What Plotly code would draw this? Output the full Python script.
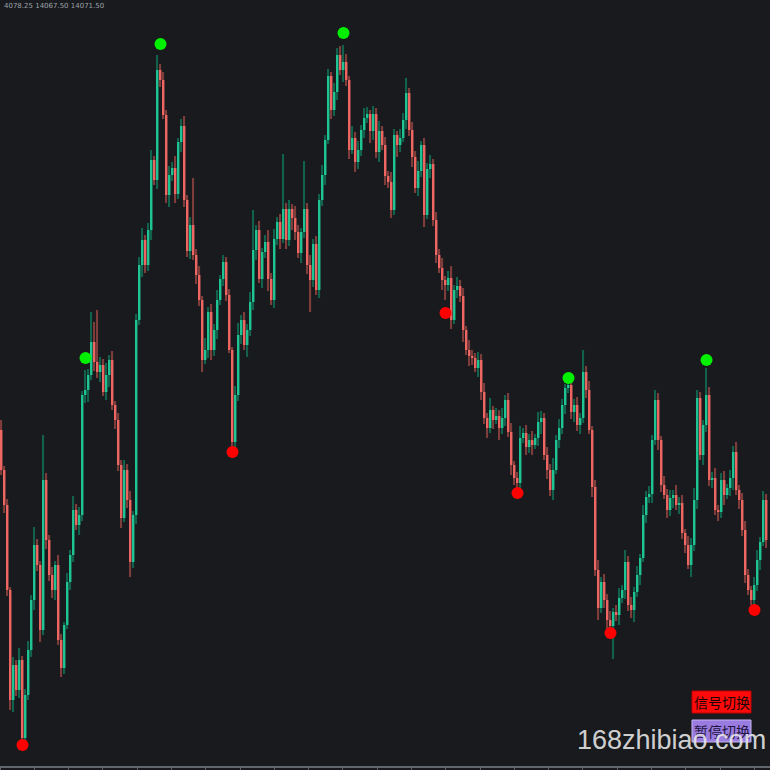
import plotly.graph_objects as go

# ---------------- data ----------------
first_open = 14370
closes = [
    14330, 14295, 14210, 14100, 14135, 14110, 14140, 14062, 14105, 14150, 14200, 14255, 14235, 14170, 14320, 14260,
    14225, 14210, 14235, 14160, 14132, 14175, 14218, 14245, 14290, 14275, 14285, 14405, 14410, 14425, 14458, 14438,
    14428, 14435, 14408, 14425, 14440, 14395, 14380, 14335, 14282, 14330, 14300, 14238, 14285, 14480, 14535, 14560,
    14535, 14570, 14640, 14620, 14730, 14720, 14685, 14605, 14625, 14632, 14606, 14658, 14674, 14600, 14549, 14575,
    14545, 14525, 14500, 14440, 14450, 14488, 14450, 14470, 14500, 14521, 14538, 14505, 14450, 14358, 14405, 14465,
    14480, 14455, 14470, 14498, 14550, 14570, 14521, 14548, 14558, 14521, 14500, 14561, 14578, 14561, 14591, 14560,
    14591, 14582, 14568, 14547, 14568, 14591, 14535, 14520, 14556, 14510, 14600, 14625, 14660, 14724, 14690, 14708,
    14745, 14730, 14738, 14720, 14650, 14662, 14638, 14650, 14670, 14682, 14686, 14669, 14686, 14648, 14669, 14655,
    14624, 14618, 14590, 14665, 14655, 14662, 14680, 14707, 14670, 14643, 14612, 14629, 14655, 14585, 14631, 14636,
    14580, 14545, 14532, 14520, 14515, 14522, 14480, 14510, 14514, 14504, 14470, 14450, 14444, 14442, 14432, 14440,
    14408, 14382, 14372, 14390, 14380, 14384, 14372, 14382, 14400, 14368, 14335, 14322, 14317, 14362, 14367, 14353,
    14360, 14355, 14362, 14378, 14382, 14345, 14330, 14310, 14330, 14360, 14372, 14395, 14412, 14415, 14388, 14395,
    14375, 14382, 14428, 14410, 14370, 14313, 14230, 14192, 14218, 14200, 14180, 14174, 14188, 14185, 14202, 14210,
    14238, 14195, 14190, 14208, 14225, 14242, 14285, 14303, 14306, 14360, 14400, 14360, 14315, 14305, 14290, 14302,
    14305, 14295, 14297, 14267, 14255, 14235, 14255, 14300, 14402, 14345, 14375, 14405, 14320, 14322, 14290, 14288,
    14320, 14305, 14312, 14322, 14348, 14310, 14300, 14270, 14225, 14210, 14200, 14215, 14240, 14258, 14300, 14260,
]
up_wick = [
    10, 4, 6, 3, 8, 5, 12, 4, 6, 9, 5, 18, 6, 4, 45, 7,
    5, 8, 4, 10, 6, 3, 9, 5, 14, 6, 8, 4, 20, 6, 30, 20,
    52, 8, 6, 12, 5, 9, 4, 7, 5, 10, 6, 9, 4, 6, 8, 12,
    5, 7, 10, 4, 15, 6, 8, 5, 9, 6, 12, 4, 7, 10, 5, 8,
    47, 6, 9, 4, 12, 5, 8, 6, 10, 4, 7, 5, 6, 3, 9, 12,
    5, 8, 6, 10, 40, 5, 9, 4, 7, 12, 6, 10, 5, 8, 55, 6,
    9, 5, 12, 7, 4, 48, 6, 10, 5, 8, 6, 10, 5, 7, 4, 9,
    7, 9, 17, 8, 4, 12, 6, 9, 5, 10, 7, 4, 8, 6, 10, 5,
    8, 5, 10, 6, 4, 9, 7, 15, 5, 8, 6, 10, 4, 7, 6, 9,
    5, 8, 6, 10, 4, 7, 12, 5, 9, 6, 8, 4, 10, 6, 5, 8,
    6, 9, 5, 12, 4, 8, 6, 10, 5, 7, 9, 4, 6, 12, 5, 8,
    6, 9, 4, 10, 7, 5, 8, 6, 12, 5, 9, 6, 4, 2, 10, 6,
    8, 5, 22, 6, 9, 4, 7, 10, 5, 8, 6, 9, 4, 7, 10, 5,
    12, 6, 8, 5, 9, 4, 10, 6, 8, 5, 10, 7, 4, 9, 6, 8,
    5, 10, 6, 8, 4, 9, 7, 12, 8, 6, 5, 27, 8, 6, 10, 5,
    7, 9, 4, 8, 6, 10, 5, 7, 9, 6, 4, 8, 10, 5, 9, 6,
]
dn_wick = [
    5, 8, 6, 10, 12, 6, 8, 4, 9, 5, 7, 10, 6, 12, 5, 9,
    6, 8, 10, 5, 9, 6, 4, 8, 7, 5, 10, 6, 8, 12, 5, 9,
    6, 10, 4, 8, 12, 5, 9, 6, 10, 4, 8, 15, 6, 9, 5, 12,
    8, 6, 10, 5, 9, 7, 4, 8, 12, 6, 9, 5, 10, 7, 6, 8,
    5, 9, 6, 12, 4, 8, 10, 6, 9, 5, 7, 6, 3, 6, 8, 6,
    9, 5, 12, 6, 8, 10, 4, 9, 6, 12, 5, 8, 6, 10, 4, 9,
    6, 12, 8, 5, 10, 6, 9, 32, 7, 5, 8, 6, 10, 4, 9, 6,
    8, 5, 12, 6, 9, 4, 10, 7, 6, 8, 5, 12, 9, 6, 10, 5,
    9, 6, 8, 5, 12, 7, 4, 9, 6, 10, 5, 8, 6, 12, 4, 9,
    6, 8, 5, 10, 15, 6, 9, 4, 8, 6, 12, 5, 10, 7, 4, 9,
    8, 6, 10, 5, 9, 4, 12, 6, 8, 5, 10, 7, 5, 9, 5, 8,
    6, 10, 4, 8, 12, 5, 9, 6, 10, 4, 8, 6, 9, 5, 7, 10,
    6, 9, 5, 8, 4, 10, 6, 12, 5, 8, 9, 4, 33, 6, 10, 5,
    9, 6, 8, 12, 5, 10, 4, 8, 6, 9, 5, 10, 7, 4, 8, 6,
    10, 5, 9, 6, 8, 4, 12, 6, 9, 5, 10, 7, 6, 8, 5, 9,
    6, 10, 4, 8, 12, 5, 9, 6, 8, 5, 5, 9, 6, 10, 4, 8,
]
peak_idx = [28, 53, 114, 189, 235]
peak_price = [14442, 14756, 14767, 14422, 14440]
trough_idx = [7, 77, 148, 172, 203, 251]
trough_price = [14055, 14348, 14487, 14307, 14167, 14190]
header_text = "4078.25 14067.50 14071.50"
button_labels = ["信号切换", "暂停切换"]
watermark = "168zhibiao.com"

# ---------------- derived OHLC ----------------
n = len(closes)
idx = list(range(n))
opens = [first_open] + closes[:-1]
highs = [max(o, c) + u for o, c, u in zip(opens, closes, up_wick)]
lows = [min(o, c) - d for o, c, d in zip(opens, closes, dn_wick)]
is_up = [c >= o for o, c in zip(opens, closes)]

UP_BODY, DN_BODY = "#1fc493", "#ee6661"
UP_WICK, DN_WICK = "#12624b", "#7e3d3a"
BG = "#181a1e"

fig = go.Figure()
fig.add_trace(go.Bar(
    x=idx, base=lows, y=[h - l for h, l in zip(highs, lows)], width=0.4,
    marker=dict(color=[UP_WICK if u else DN_WICK for u in is_up], line_width=0),
    hoverinfo="skip"))
fig.add_trace(go.Bar(
    x=idx, base=[min(o, c) for o, c in zip(opens, closes)],
    y=[max(abs(c - o), 1) for o, c in zip(opens, closes)], width=0.62,
    marker=dict(color=[UP_BODY if u else DN_BODY for u in is_up], line_width=0),
    hoverinfo="skip"))
fig.add_trace(go.Scatter(x=peak_idx, y=peak_price, mode="markers",
                         marker=dict(color="#00f000", size=12, line_width=0)))
fig.add_trace(go.Scatter(x=trough_idx, y=trough_price, mode="markers",
                         marker=dict(color="#ff0000", size=12, line_width=0)))

H = 766.0  # plot height in px
def py(ypx):
    return (H - ypx) / H

shapes = [
    dict(type="rect", xref="paper", yref="paper", x0=692 / 770, x1=751 / 770,
         y0=py(713), y1=py(691), fillcolor="#ff0a0a", line=dict(color="#c00000", width=1), layer="above"),
    dict(type="rect", xref="paper", yref="paper", x0=692 / 770, x1=751 / 770,
         y0=py(742), y1=py(720), fillcolor="#9a7ce0", line=dict(color="#c4b4f2", width=1), layer="above"),
]
annotations = [
    dict(text=header_text, xref="paper", yref="paper", x=0.002, y=1.0, xanchor="left", yanchor="top",
         showarrow=False, font=dict(size=7, color="#9ea2a8", family="DejaVu Sans")),
    dict(text=button_labels[0], xref="paper", yref="paper", x=721.5 / 770, y=py(702),
         xanchor="center", yanchor="middle",
         showarrow=False, font=dict(size=14, color="#1a0505", family="Noto Sans CJK SC")),
    dict(text=button_labels[1], xref="paper", yref="paper", x=721.5 / 770, y=py(731),
         xanchor="center", yanchor="middle",
         showarrow=False, font=dict(size=14, color="#1e1440", family="Noto Sans CJK SC")),
    dict(text=watermark, xref="paper", yref="paper", x=671 / 770, y=py(740),
         xanchor="center", yanchor="middle",
         showarrow=False, font=dict(size=27, color="rgba(232,232,232,0.9)", family="Liberation Sans")),
]

fig.update_layout(
    width=770, height=770, margin=dict(l=0, r=0, t=0, b=4),
    paper_bgcolor=BG, plot_bgcolor=BG, showlegend=False, barmode="overlay",
    shapes=shapes, annotations=annotations,
    xaxis=dict(range=[-0.5, 256.1667], showgrid=False, zeroline=False, showticklabels=False,
               showline=True, linecolor="#62666d", linewidth=2, ticks="outside", ticklen=4,
               tickcolor="#62666d", tick0=-0.5, dtick=11.43, fixedrange=True),
    yaxis=dict(range=[14034, 14800], showgrid=False, zeroline=False, showticklabels=False,
               showline=True, linecolor="#4a4e55", linewidth=1, fixedrange=True),
)
fig.write_html(
    "out.html",
    config={"displayModeBar": False},
    post_script="document.body.style.margin='0';document.body.style.background='%s';" % BG,
)
